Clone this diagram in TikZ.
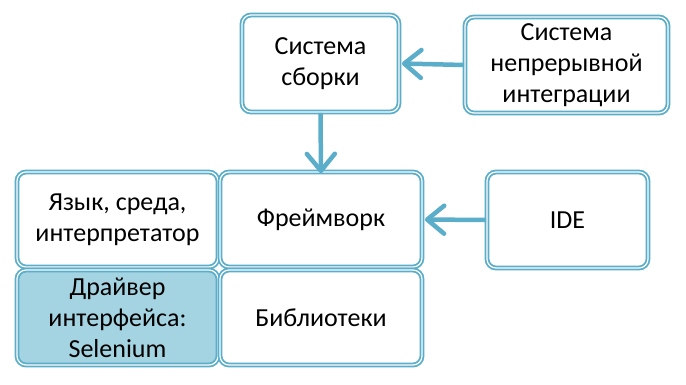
\documentclass[tikz,border=0pt]{standalone}
\usepackage{fontspec}
\setmainfont{Carlito}
\usetikzlibrary{positioning,calc,arrows.meta}
\definecolor{frameblue}{RGB}{90,174,202}
\definecolor{driverfill}{RGB}{164,211,225}
\tikzset{blk/.style={draw=frameblue,double=white,double distance=1.2pt,line width=1.8pt,rounded corners=9pt,fill=white,align=center,inner sep=1pt,font=\fontsize{26}{31}\selectfont}  }
\tikzset{flow/.style={draw=frameblue,line width=4.5pt,-{Straight Barb[length=17pt,width=28pt,line cap=round,line join=round]}}  }

\begin{document}
\begin{tikzpicture}[x=1pt,y=-1pt]
	\useasboundingbox (0,0) rectangle (686,384);
		\node[blk,minimum width=157pt,minimum height=97pt] (sborka) at (320.5,63.5) {Система\\сборки};
		\node[blk,minimum width=203pt,minimum height=96pt] (ci) at (566.5,65) {Система\\непрерывной\\интеграции};
		\node[blk,minimum width=201pt,minimum height=95pt] (lang) at (117.5,219.5) {Язык, среда,\\интерпретатор};
		\node[blk,minimum width=201pt,minimum height=95pt,fill=driverfill] (driver) at (117.5,317.5) {Драйвер\\интерфейса:\\Selenium};
		\node[blk,minimum width=202pt,minimum height=95pt] (frame) at (321,219.5) {Фреймворк};
		\node[blk,minimum width=202pt,minimum height=95pt] (libs) at (321,317.5) {Библиотеки};
		\node[blk,minimum width=161pt,minimum height=96pt] (ide) at (567.5,220) {IDE};

		\draw[flow] (ci.west) -- ([xshift=2pt]sborka.east);
		\draw[flow] (sborka.south) -- ([yshift=-2pt]frame.north);
		\draw[flow] (ide.west) -- ([xshift=2pt]frame.east);
\end{tikzpicture}
\end{document}
